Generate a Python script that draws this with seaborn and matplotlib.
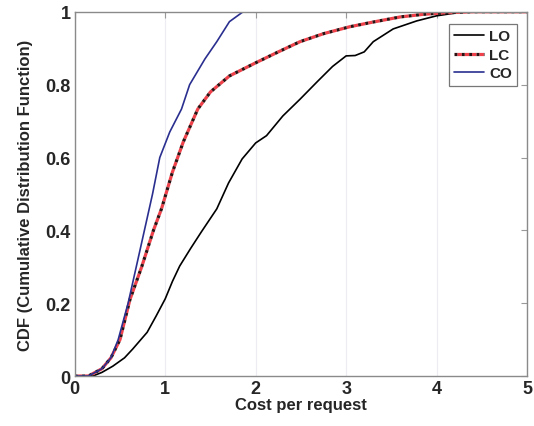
import numpy as np
import pandas as pd
import matplotlib
matplotlib.use("Agg")
import matplotlib.pyplot as plt
import seaborn as sns

# ---- data ----
lo_x = [0, 0.2, 0.3, 0.42, 0.55, 0.64, 0.8, 0.9, 1.0, 1.08, 1.16, 1.28, 1.4, 1.57, 1.7, 1.85,
        2.0, 2.12, 2.3, 2.49, 2.68, 2.85, 3.0, 3.1, 3.2, 3.3, 3.52, 3.78, 4.0, 4.3, 5.0]
lo_y = [0, 0.0, 0.01, 0.027, 0.05, 0.074, 0.12, 0.165, 0.212, 0.26, 0.302, 0.35, 0.396, 0.459, 0.53, 0.596,
        0.64, 0.66, 0.714, 0.76, 0.808, 0.85, 0.879, 0.88, 0.89, 0.918, 0.953, 0.975, 0.989, 1.0, 1.0]

lc_x = [0, 0.15, 0.3, 0.4, 0.5, 0.61, 0.74, 0.87, 0.96, 1.08, 1.2, 1.36, 1.5, 1.71, 2.0,
        2.25, 2.49, 2.75, 3.04, 3.3, 3.6, 3.85, 4.07, 4.4, 5.0]
lc_y = [0, 0.0, 0.02, 0.05, 0.1, 0.21, 0.30, 0.40, 0.46, 0.56, 0.643, 0.733, 0.78, 0.824, 0.86,
        0.89, 0.918, 0.94, 0.959, 0.972, 0.986, 0.993, 0.997, 1.0, 1.0]

co_x = [0, 0.15, 0.3, 0.4, 0.48, 0.59, 0.68, 0.77, 0.86, 0.94, 1.05, 1.18, 1.27, 1.44, 1.57, 1.71, 1.86, 5.0]
co_y = [0, 0.0, 0.02, 0.05, 0.1, 0.2, 0.3, 0.4, 0.5, 0.6, 0.67, 0.733, 0.8, 0.871, 0.918, 0.973, 1.0, 1.0]

series_names = ["LO", "LC", "CO"]
x_ticks = [0, 1, 2, 3, 4, 5]
y_ticks = [0, 0.2, 0.4, 0.6, 0.8, 1]
y_tick_labels = ["0", "0.2", "0.4", "0.6", "0.8", "1"]

sns.set_theme(style="white")
plt.rcParams["font.family"] = ["Liberation Sans", "DejaVu Sans"]
plt.rcParams["font.weight"] = "bold"

fig = plt.figure(figsize=(5.34, 4.27), dpi=100)
ax = fig.add_axes([0.140, 0.117, 0.847, 0.853])

df_lo = pd.DataFrame({"x": lo_x, "y": lo_y})
df_lc = pd.DataFrame({"x": lc_x, "y": lc_y})
df_co = pd.DataFrame({"x": co_x, "y": co_y})

sns.lineplot(data=df_lo, x="x", y="y", ax=ax, color="black", lw=1.2, label=series_names[0],
             estimator=None, sort=False)
sns.lineplot(data=df_lc, x="x", y="y", ax=ax, color="#2a1010", lw=2.3, label=series_names[1],
             estimator=None, sort=False, linestyle=(0, (0.9, 1.4)), gapcolor="#f0404a")
sns.lineplot(data=df_co, x="x", y="y", ax=ax, color="#2a2f8f", lw=1.2, label=series_names[2],
             estimator=None, sort=False)

ax.set_xlim(0, 5)
ax.set_ylim(0, 1)
ax.set_xticks(x_ticks)
ax.set_xticklabels([str(t) for t in x_ticks])
ax.set_yticks(y_ticks)
ax.set_yticklabels(y_tick_labels)
ax.tick_params(axis="both", direction="in", length=4, width=0.8, color="#999999",
               labelsize=13, top=True, right=True, pad=3)
for lab in ax.get_xticklabels() + ax.get_yticklabels():
    lab.set_fontweight("bold")
ax.xaxis.grid(True, color="#ececf2", lw=0.8)
ax.yaxis.grid(False)
for s in ax.spines.values():
    s.set_color("#8a8a8a")
    s.set_linewidth(1.0)

ax.set_xlabel("Cost per request", fontsize=12, fontweight="bold", labelpad=0)
ax.set_ylabel("CDF (Cumulative Distribution Function)", fontsize=12, fontweight="bold", labelpad=9)

leg = ax.legend(loc="upper right", bbox_to_anchor=(0.985, 0.975), fontsize=11, frameon=True,
                fancybox=False, edgecolor="#555555", handlelength=2.0, handletextpad=0.3,
                borderpad=0.35, labelspacing=0.3, borderaxespad=0.2)
leg.get_frame().set_linewidth(0.9)
for t in leg.get_texts():
    t.set_fontweight("bold")

fig.savefig("out.png", dpi=100)
